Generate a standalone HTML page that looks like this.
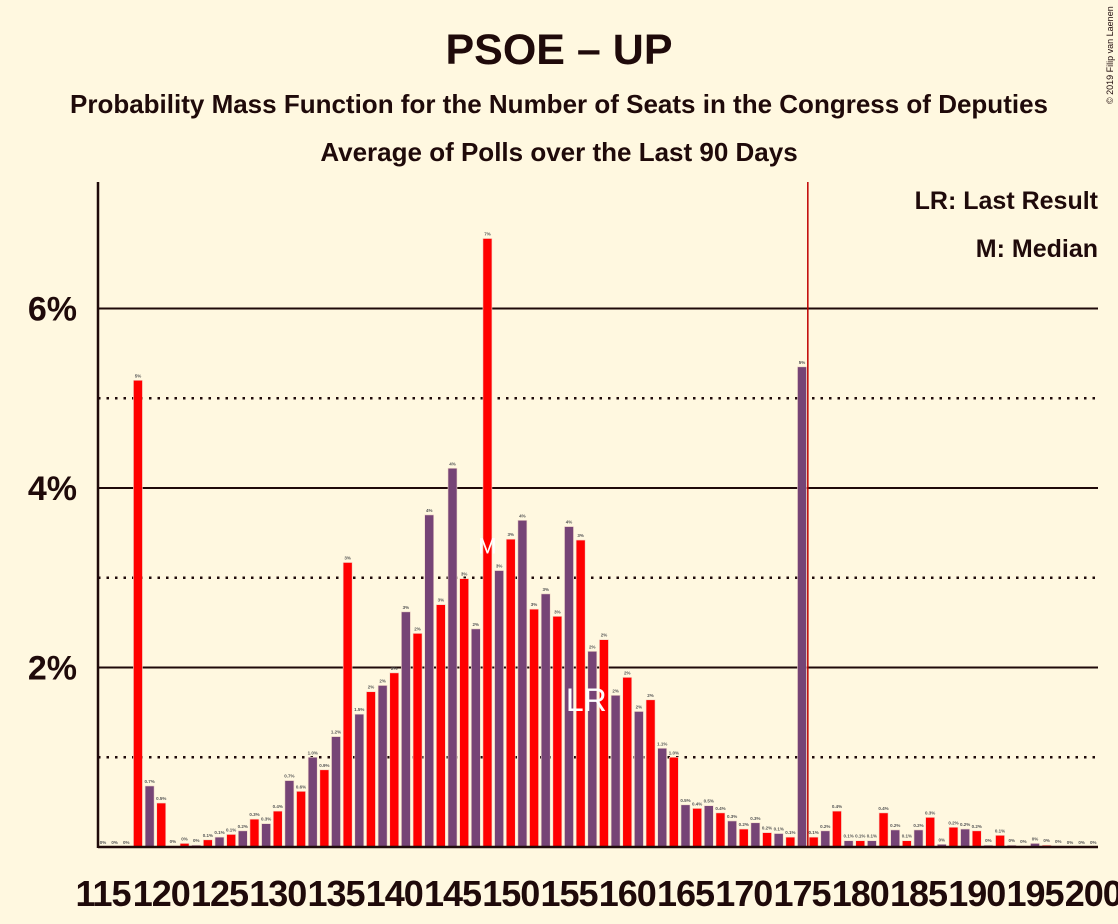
<!DOCTYPE html>
<html><head><meta charset="utf-8"><style>
html,body{margin:0;padding:0;background:#fff8e0;}
svg{display:block;font-family:"Liberation Sans",sans-serif;}
</style></head><body>
<svg id="chart" width="1118" height="924" viewBox="0 0 1118 924" xmlns="http://www.w3.org/2000/svg">
<rect width="1118" height="924" fill="#fff8e0"/>
<text x="559" y="64" text-anchor="middle" font-size="43" font-weight="bold" fill="#1f0a0a">PSOE – UP</text>
<text x="559" y="113" text-anchor="middle" font-size="26" font-weight="bold" fill="#1f0a0a">Probability Mass Function for the Number of Seats in the Congress of Deputies</text>
<text x="559" y="161" text-anchor="middle" font-size="26" font-weight="bold" fill="#1f0a0a">Average of Polls over the Last 90 Days</text>
<text x="1098" y="209" text-anchor="end" font-size="25" font-weight="bold" fill="#1f0a0a">LR: Last Result</text>
<text x="1098" y="257" text-anchor="end" font-size="25" font-weight="bold" fill="#1f0a0a">M: Median</text>
<text transform="translate(1113,104) rotate(-90)" font-size="9" fill="#1f0a0a">© 2019 Filip van Laenen</text>
<g id="grid"></g>
<g id="bars"></g>
<g id="axes"></g>
</svg>
<script>
const seats = [];
for (let s = 115; s <= 200; s++) seats.push(s);
const probs = [0,0,0,5.2,0.68,0.49,0.01,0.04,0.02,0.08,0.11,0.14,0.18,0.31,0.26,0.40,0.74,0.62,1.0,0.86,1.23,3.17,1.48,1.73,1.8,1.94,2.62,2.38,3.7,2.7,4.22,2.99,2.43,6.78,3.08,3.43,3.64,2.65,2.82,2.57,3.57,3.42,2.18,2.31,1.69,1.89,1.51,1.64,1.1,1.0,0.47,0.43,0.46,0.38,0.29,0.2,0.27,0.16,0.15,0.11,5.35,0.11,0.18,0.4,0.07,0.07,0.07,0.38,0.19,0.07,0.19,0.33,0.03,0.22,0.2,0.18,0.02,0.13,0.02,0.01,0.04,0.02,0.01,0,0,0];
const yTicks = [2,4,6];
const yMinor = [1,3,5];
const xTicks = [115,120,125,130,135,140,145,150,155,160,165,170,175,180,185,190,195,200];
const median = 148, lastResult = 157, majority = 175.5;

const NS = "http://www.w3.org/2000/svg";
const X0 = 103, DX = 11.65, Y0 = 847, PY = 89.75, L = 98, R = 1098;
const xs = s => X0 + (s - 115) * DX;
const ys = v => Y0 - v * PY;
function mk(tag, attrs, parent) {
  const e = document.createElementNS(NS, tag);
  for (const k in attrs) e.setAttribute(k, attrs[k]);
  parent.appendChild(e);
  return e;
}
const grid = document.getElementById('grid');
const bars = document.getElementById('bars');
const axes = document.getElementById('axes');
yMinor.forEach(v => {
  const l = mk('line', {x1: L, x2: R, y1: ys(v), y2: ys(v), stroke: '#1f0a0a', 'stroke-width': 2.5, 'stroke-dasharray': '2.5,6'}, grid);
  
  
});
yTicks.forEach(v => {
  const l = mk('line', {x1: L, x2: R, y1: ys(v), y2: ys(v), stroke: '#1f0a0a', 'stroke-width': 2}, grid);
  
  
  const t = mk('text', {x: 77, y: ys(v) + 12, 'text-anchor': 'end', 'font-size': 34, 'font-weight': 'bold', fill: '#1f0a0a'}, axes);
  t.textContent = v + '%';
  
  
});
function fmt(v) {
  if (v < 0.05) return '0%';
  if (v < 1.5) return v.toFixed(1) + '%';
  return Math.round(v) + '%';
}
seats.forEach((s, i) => {
  const v = probs[i];
  const x = xs(s);
  const col = s % 2 === 0 ? '#ff0000' : '#764476';
  const h = v * PY;
  const r = mk('rect', {x: x - 4.5, y: Y0 - h, width: 9, height: h, fill: col, stroke: '#f0d8c8', 'stroke-width': 0.6}, bars);
  
  
  const t = mk('text', {x: x, y: Y0 - h - 3, 'text-anchor': 'middle', 'font-size': 4.5, 'font-weight': 'bold', fill: '#555'}, bars);
  t.textContent = fmt(v);
  
  
});
const mj = mk('line', {x1: xs(majority), x2: xs(majority), y1: 182, y2: Y0, stroke: '#c00000', 'stroke-width': 1.5}, axes);


const mt = mk('text', {x: xs(median), y: ys(probs[median - 115]) + 315, 'text-anchor': 'middle', 'font-size': 22, fill: '#fff'}, axes);
mt.textContent = 'M';


const lt = mk('text', {x: xs(lastResult) - 6, y: 711, 'text-anchor': 'middle', 'font-size': 32, fill: '#fff'}, axes);
lt.textContent = 'LR';


const ya = mk('line', {x1: L, x2: L, y1: 182, y2: Y0 + 1, stroke: '#1f0a0a', 'stroke-width': 2.5}, axes);


const xa = mk('line', {x1: L, x2: R, y1: Y0, y2: Y0, stroke: '#1f0a0a', 'stroke-width': 2.5}, axes);


xTicks.forEach(s => {
  const t = mk('text', {x: xs(s), y: 906, 'text-anchor': 'middle', 'font-size': 36, 'font-weight': 'bold', fill: '#1f0a0a', 'letter-spacing': '-1'}, axes);
  t.textContent = s;
  
  
});
</script>
</body></html>
